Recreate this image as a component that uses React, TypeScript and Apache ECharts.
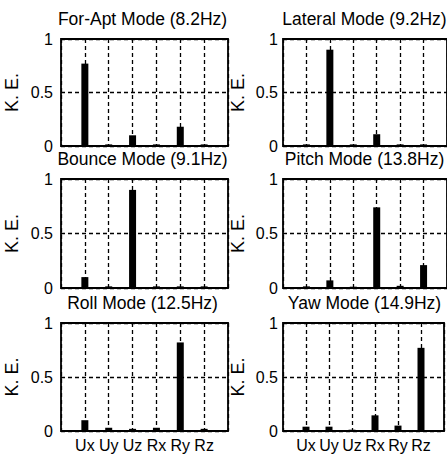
import React, { useEffect, useRef } from "react";
import * as echarts from "echarts";

const categories = ["Ux", "Uy", "Uz", "Rx", "Ry", "Rz"];
const titles = [
  "For-Apt Mode (8.2Hz)",
  "Lateral Mode (9.2Hz)",
  "Bounce Mode (9.1Hz)",
  "Pitch Mode (13.8Hz)",
  "Roll Mode (12.5Hz)",
  "Yaw Mode (14.9Hz)",
];
const foreAftKE = [0.77, 0.015, 0.1, 0.015, 0.18, 0.015];
const lateralKE = [0.015, 0.9, 0.015, 0.11, 0.015, 0.015];
const bounceKE = [0.1, 0.015, 0.9, 0.015, 0.015, 0.015];
const pitchKE = [0.015, 0.07, 0.012, 0.74, 0.02, 0.21];
const rollKE = [0.1, 0.03, 0.02, 0.03, 0.82, 0.02];
const yawKE = [0.04, 0.04, 0.012, 0.145, 0.05, 0.77];
const panels = [foreAftKE, lateralKE, bounceKE, pitchKE, rollKE, yawKE];
const yAxisName = "K. E.";

const FONT = "Liberation Sans, Arial, Helvetica, sans-serif";
const colLeft = [61, 283];
const plotWidth = 167;
const rowTop = [39, 179, 323];
const rowHeight = [107, 109, 108];
const labelMargin = [8, 5];
const nameX = [12, 238];

export default function App() {
  const ref = useRef<HTMLDivElement>(null);
  useEffect(() => {
    if (!ref.current) return;
    const chart = echarts.init(ref.current, null, { renderer: "svg" });
    const grid: any[] = [];
    const xAxis: any[] = [];
    const yAxis: any[] = [];
    const series: any[] = [];
    const graphic: any[] = [];
    const dash = { color: "#000", width: 1.3, type: [4, 3] };
    panels.forEach((vals, i) => {
      const row = Math.floor(i / 2);
      const col = i % 2;
      grid.push({
        left: colLeft[col],
        top: rowTop[row],
        width: plotWidth,
        height: rowHeight[row],
        show: true,
        borderColor: "#000",
        borderWidth: 1.8,
        backgroundColor: "transparent",
      });
      xAxis.push({
        type: "value",
        gridIndex: i,
        min: 0,
        max: categories.length + 1,
        interval: 1,
        axisLine: { show: false },
        axisTick: { show: false },
        splitLine: { show: true, lineStyle: dash },
        axisLabel: {
          show: row === 2,
          margin: 6,
          fontSize: 16,
          fontFamily: FONT,
          color: "#000",
          formatter: (v: number) => categories[v - 1] || "",
        },
      });
      yAxis.push({
        type: "value",
        gridIndex: i,
        min: 0,
        max: 1,
        interval: 0.5,
        axisLine: { show: false },
        axisTick: { show: false },
        splitLine: { show: true, lineStyle: dash },
        axisLabel: {
          margin: labelMargin[col],
          fontSize: 16,
          fontFamily: FONT,
          color: "#000",
          formatter: (v: number) => String(v),
        },
      });
      series.push({
        type: "bar",
        xAxisIndex: i,
        yAxisIndex: i,
        barWidth: 7,
        itemStyle: { color: "#000" },
        data: vals.map((v, k) => [k + 1, v]),
      });
      graphic.push({
        type: "text",
        x: colLeft[col] + plotWidth / 2 - 2,
        y: rowTop[row] - 20,
        style: {
          text: titles[i],
          font: `17.5px ${FONT}`,
          fill: "#000",
          textAlign: "center",
          textVerticalAlign: "middle",
          align: "center",
          verticalAlign: "middle",
        },
      });
      graphic.push({
        type: "text",
        x: nameX[col],
        y: rowTop[row] + rowHeight[row] / 2,
        rotation: Math.PI / 2,
        style: {
          text: yAxisName,
          font: `18px ${FONT}`,
          fill: "#000",
          textAlign: "center",
          textVerticalAlign: "middle",
          align: "center",
          verticalAlign: "middle",
        },
      });
    });
    chart.setOption({
      animation: false,
      backgroundColor: "#fff",
      grid,
      xAxis,
      yAxis,
      series,
      graphic,
    });
    return () => chart.dispose();
  }, []);
  return (
    <div
      ref={ref}
      style={{ position: "fixed", left: 0, top: 0, width: 447, height: 460 }}
    />
  );
}
